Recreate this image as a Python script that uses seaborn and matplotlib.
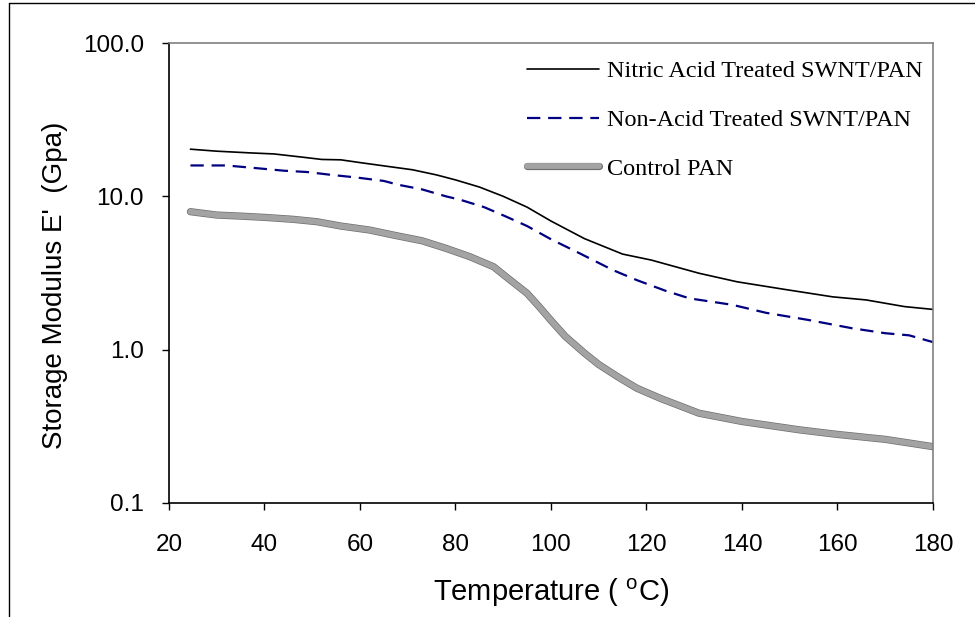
import numpy as np
import pandas as pd
import seaborn as sns
import matplotlib.pyplot as plt
import matplotlib.patheffects as pe
from matplotlib.lines import Line2D

# values (temperature in C, E' in GPa)
t_nitric = [24.5, 30, 37, 42, 48, 52, 56, 60, 65, 71, 76, 80, 85, 90, 95, 100,
            107, 115, 121, 131, 139, 149, 159, 166, 174, 180]
e_nitric = [20.3, 19.7, 19.2, 18.9, 18.0, 17.4, 17.3, 16.6, 15.8, 14.9, 13.8, 12.8,
            11.5, 10.0, 8.5, 6.9, 5.3, 4.2, 3.84, 3.15, 2.77, 2.47, 2.21, 2.11, 1.91, 1.83]

t_nonacid = [24.5, 32, 39, 44, 49, 54, 59, 65, 68, 73, 78, 81, 86, 90.5, 95, 100,
             106, 113, 118, 124, 129, 138, 145, 154, 163, 170, 175, 180]
e_nonacid = [15.9, 15.9, 15.2, 14.7, 14.4, 13.8, 13.3, 12.6, 11.9, 11.1, 10.0, 9.5,
             8.5, 7.4, 6.4, 5.25, 4.25, 3.3, 2.84, 2.42, 2.16, 1.96, 1.74, 1.56, 1.38,
             1.28, 1.24, 1.12]

t_control = [24.5, 30, 35, 40, 46, 51, 56, 62, 67, 73, 78, 83, 88, 91, 95, 97.5, 100,
             103, 107, 110, 114, 118, 123, 131, 140, 152, 160, 170, 180]
e_control = [7.94, 7.55, 7.43, 7.29, 7.08, 6.83, 6.40, 6.03, 5.59, 5.13, 4.58, 4.04,
             3.47, 2.92, 2.33, 1.91, 1.55, 1.22, 0.95, 0.80, 0.665, 0.56, 0.48, 0.385,
             0.34, 0.30, 0.28, 0.26, 0.233]

x_ticks = [20, 40, 60, 80, 100, 120, 140, 160, 180]
y_ticks = [0.1, 1, 10, 100]
y_ticklabels = ['0.1', '1.0', '10.0', '100.0']

sns.set_style('white')
plt.rcParams['font.family'] = ['Liberation Sans', 'DejaVu Sans']
plt.rcParams['mathtext.fontset'] = 'custom'
plt.rcParams['mathtext.rm'] = 'Liberation Sans'

fig = plt.figure(figsize=(9.75, 6.17), dpi=100)
ax = fig.add_axes([0.1733, 0.1848, 0.7836, 0.7455])

sns.lineplot(x=t_nitric, y=e_nitric, ax=ax, color='black', linewidth=1.2,
             label='Nitric Acid Treated SWNT/PAN')
sns.lineplot(x=t_nonacid, y=e_nonacid, ax=ax, color='#000080', linewidth=1.6,
             dashes=False, label='Non-Acid Treated SWNT/PAN')
ax.lines[-1].set_dashes((6, 3.5))
sns.lineplot(x=t_control, y=e_control, ax=ax, color='#a3a3a3', linewidth=4.2,
             label='Control PAN')
ax.lines[-1].set_path_effects([pe.Stroke(linewidth=5.2, foreground='#6e6e6e'), pe.Normal()])

ax.set_yscale('log')
ax.set_xlim(20, 180)
ax.set_ylim(0.1, 100)
ax.set_xticks(x_ticks)
ax.set_yticks(y_ticks)
ax.set_yticklabels(y_ticklabels)
ax.minorticks_off()
ax.tick_params(axis='both', which='major', direction='out', length=5, width=1,
               color='black', labelcolor='black', labelsize=17.5, left=True, bottom=True)
ax.tick_params(axis='y', pad=13)
ax.tick_params(axis='x', pad=17)

for side in ['left', 'bottom']:
    ax.spines[side].set_color('black')
    ax.spines[side].set_linewidth(1.2)
for side in ['top', 'right']:
    ax.spines[side].set_color('#808080')
    ax.spines[side].set_linewidth(1.2)

ax.set_xlabel(r'Temperature ( $^{\mathrm{o}}$C)', fontsize=21, color='black')
ax.set_ylabel("Storage Modulus E'  (Gpa)", fontsize=20, color='black')
ax.xaxis.set_label_coords(0.5, -0.16)
ax.yaxis.set_label_coords(-0.132, 0.474)

leg = ax.legend(loc='upper left', bbox_to_anchor=(0.468, 0.962), frameon=False,
                borderaxespad=0, borderpad=0, handlelength=3.0, handletextpad=0.33,
                labelspacing=1.1, prop={'family': 'Liberation Serif', 'size': 17.5})
for txt in leg.get_texts():
    txt.set_color('black')

# outer chart border (top and left edges visible in the reference)
fig.add_artist(Line2D([0.009, 1.0], [0.995, 0.995], transform=fig.transFigure,
                      color='black', linewidth=1))
fig.add_artist(Line2D([0.009, 0.009], [0.0, 0.995], transform=fig.transFigure,
                      color='black', linewidth=1))

fig.savefig('out.png', dpi=100, facecolor='white')
